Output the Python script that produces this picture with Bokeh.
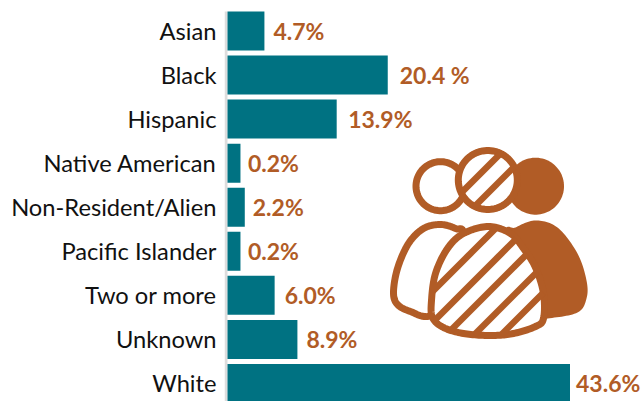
from bokeh.plotting import figure
from bokeh.models import Range1d, FixedTicker, ColumnDataSource, LinearAxis
from bokeh.core.properties import value
from bokeh.embed import file_html
from bokeh.resources import INLINE
import numpy as np

categories = ["Asian", "Black", "Hispanic", "Native American", "Non-Resident/Alien",
              "Pacific Islander", "Two or more", "Unknown", "White"]
value_labels = ["4.7%", "20.4 %", "13.9%", "0.2%", "2.2%", "0.2%", "6.0%", "8.9%", "43.6%"]
# drawn bar lengths: the reference gives the 0.2% rows a minimum visible width
bar_lengths = [4.7, 20.4, 13.9, 1.65, 2.2, 1.65, 6.0, 8.9, 43.6]
label_gaps = [9, 12, 11.5, 7.5, 8, 7.5, 10, 9, 6]

TEAL = "#007282"
RUST = "#B15C26"
W, H = 644, 401
FRAME_LEFT = 224
PX_PER_UNIT = 342.5 / 43.6
ROW = 44.06

p = figure(width=W, height=H, output_backend="svg", toolbar_location=None,
           x_axis_location=None, y_axis_location=None,
           x_range=Range1d(-(227 - FRAME_LEFT) / PX_PER_UNIT, (644 - 227) / PX_PER_UNIT),
           y_range=Range1d((401 - 30.5) / ROW, (0 - 30.5) / ROW),
           min_border_left=FRAME_LEFT, min_border_right=0, min_border_top=0, min_border_bottom=0)
p.outline_line_color = None
p.xgrid.visible = False
p.ygrid.visible = False
p.background_fill_color = "white"

p.extra_x_ranges["px"] = Range1d(FRAME_LEFT, 644)
p.extra_y_ranges["px"] = Range1d(401, 0)

rows = list(range(len(categories)))
axis = LinearAxis(ticker=FixedTicker(ticks=rows),
                  major_label_overrides={i: c for i, c in enumerate(categories)},
                  axis_line_color=None, major_tick_line_color=None, minor_tick_line_color=None,
                  major_tick_out=0, major_tick_in=0, major_label_standoff=8,
                  major_label_text_font="Lato", major_label_text_font_size="23.7px",
                  major_label_text_color="#111111", major_label_text_font_style="normal")
p.add_layout(axis, "left")

p.segment([225.5], [11], [225.5], [401], line_color="#dddddd", line_width=3,
          x_range_name="px", y_range_name="px")

src = ColumnDataSource(dict(y=rows, v=bar_lengths, t=value_labels, g=label_gaps))
p.hbar(y="y", left=0, right="v", height=39 / ROW, fill_color=TEAL, line_color=None, source=src)
p.text(x="v", y="y", text="t", x_offset="g", text_baseline="middle", text_align="left",
       text_font=value("Lato"), text_font_style="bold", text_font_size="23px",
       text_color=RUST, source=src)


def smooth(pts, n=14):
    pts = np.asarray(pts, float)
    m = len(pts)
    out = []
    for i in range(m):
        p0, p1, p2, p3 = pts[(i - 1) % m], pts[i], pts[(i + 1) % m], pts[(i + 2) % m]
        for t in np.linspace(0, 1, n, endpoint=False):
            out.append(0.5 * (2 * p1 + (p2 - p0) * t + (2 * p0 - 5 * p1 + 4 * p2 - p3) * t ** 2
                              + (3 * p1 - p0 - 3 * p2 + p3) * t ** 3))
    return np.array(out)


def ring(cx, cy, r, n=90):
    a = np.linspace(0, 2 * np.pi, n, endpoint=False)
    return np.column_stack([cx + r * np.cos(a), cy + r * np.sin(a)])


def inside(poly, x, y):
    c = False
    x0, y0 = poly[-1]
    for x1, y1 in poly:
        if (y1 > y) != (y0 > y) and x < (x0 - x1) * (y - y1) / (y0 - y1) + x1:
            c = not c
        x0, y0 = x1, y1
    return c


def stripes(poly, sums):
    xs, ys = [], []
    for c in sums:
        xv = np.arange(poly[:, 0].min(), poly[:, 0].max(), 0.25)
        hit = [x for x in xv if inside(poly, x, c - x)]
        if hit:
            xs.append([hit[0], hit[-1]])
            ys.append([c - hit[0], c - hit[-1]])
    return xs, ys


def shape(poly, fill, stroke=None):
    p.patch(poly[:, 0], poly[:, 1], fill_color=fill, line_color=stroke or fill,
            line_width=7 if stroke else 0, line_join="round",
            x_range_name="px", y_range_name="px")


body_right = smooth([(505, 235), (515, 227), (535, 220), (557, 227), (577, 253), (586, 280),
                     (586, 298), (577, 312), (547, 318), (515, 320)])
body_left = smooth([(430, 315), (410, 311), (397, 304), (393, 292), (397, 268), (408, 243), (423, 228),
                    (440, 224), (455, 228), (463, 235), (455, 290)])
body_mid = smooth([(488, 226), (510, 233), (523, 248), (535, 267), (543, 293), (543, 318), (535, 326),
                   (513, 333), (490, 335), (463, 333), (443, 327), (432, 317), (431, 300),
                   (435, 273), (447, 248), (463, 233)])
head_right = ring(535, 185.7, 28.5)
head_left = ring(440, 185.7, 24.5)
head_mid = ring(487.3, 179.5, 29.5)

shape(head_right, RUST)
shape(head_left, "white", RUST)
shape(head_mid, "white", RUST)
hx, hy = stripes(head_mid, [653, 680])
p.multi_line(hx, hy, line_color=RUST, line_width=6.5, line_cap="butt", x_range_name="px", y_range_name="px")

shape(body_right, RUST)
shape(body_left, "white", RUST)
shape(body_mid, "white", RUST)
bx, by = stripes(body_mid, [723, 754, 780, 808, 835])
p.multi_line(bx, by, line_color=RUST, line_width=6.5, line_cap="butt", x_range_name="px", y_range_name="px")

open("out.html", "w").write(file_html(p, INLINE))
